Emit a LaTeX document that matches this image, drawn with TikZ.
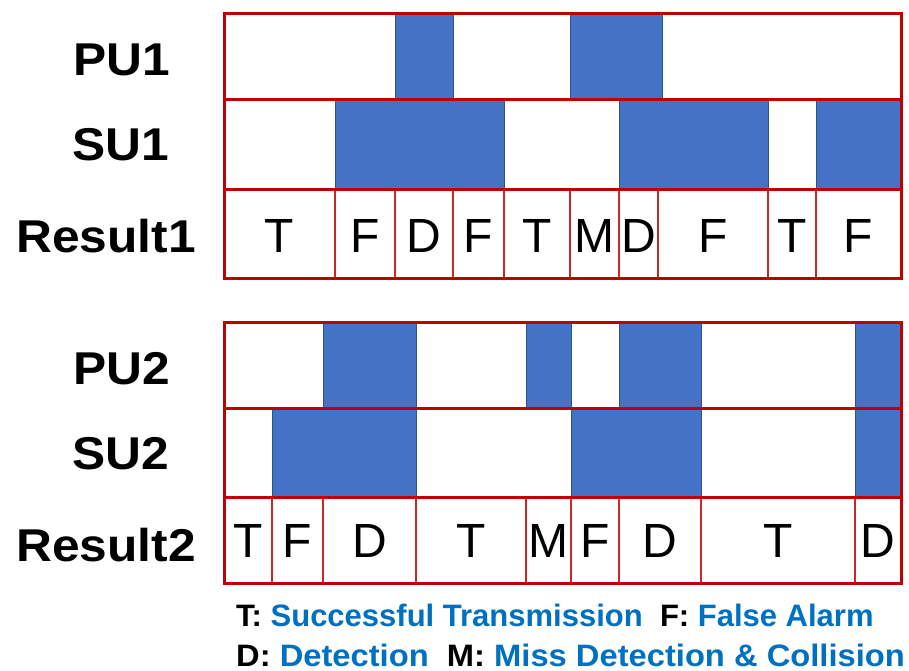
\documentclass[tikz,border=0pt]{standalone}
\usepackage{fontspec}
\setmainfont{Liberation Sans}
\definecolor{gridred}{RGB}{192,0,0}
\definecolor{fillblue}{RGB}{68,114,196}
\definecolor{edgeblue}{RGB}{47,82,143}
\definecolor{legblue}{RGB}{0,112,192}
\begin{document}
\begin{tikzpicture}[x=1pt,y=-1pt,
  busy/.style={fill=fillblue,draw=edgeblue,line width=0.8pt},
  frame/.style={draw=gridred,line width=3pt},
  rowline/.style={draw=gridred,line width=3pt},
  divline/.style={draw=gridred!85,line width=1.3pt},
  rowlab/.style={font=\fontsize{46}{50}\selectfont\bfseries,inner sep=0pt},
  cell/.style={font=\fontsize{48}{50}\selectfont,inner sep=0pt},
  legtxt/.style={font=\fontsize{31}{34}\selectfont\bfseries,inner sep=0pt,anchor=base west}]
\useasboundingbox (0,0) rectangle (909,671);
% ---------- panel 1 ----------
\fill[busy] (395,14) rectangle (453,100);
\fill[busy] (570,14) rectangle (662,100);
\fill[busy] (335,100) rectangle (504,189);
\fill[busy] (619,100) rectangle (768,189);
\fill[busy] (816,100) rectangle (901,189);
\foreach \x in {335,395,453,504,570,619,658,768,816}
  \draw[divline] (\x,189) -- (\x,278);
\draw[rowline] (224,100) -- (901,100);
\draw[rowline] (224,189) -- (901,189);
\draw[frame] (224,14) rectangle (901,278);
% ---------- panel 2 ----------
\fill[busy] (323,322) rectangle (416,408);
\fill[busy] (526,322) rectangle (571,408);
\fill[busy] (619,322) rectangle (701,408);
\fill[busy] (855,322) rectangle (901,408);
\fill[busy] (272,408) rectangle (416,497);
\fill[busy] (571,408) rectangle (701,497);
\fill[busy] (855,408) rectangle (901,497);
\foreach \x in {272,323,416,526,571,619,701,855}
  \draw[divline] (\x,497) -- (\x,583);
\draw[rowline] (224,408) -- (901,408);
\draw[rowline] (224,497) -- (901,497);
\draw[frame] (224,322) rectangle (901,583);
% ---------- row labels ----------
\node[rowlab] (pu1) at (122,59.5) {\scalebox{1.08}[1]{PU1}};
\node[rowlab] (su1) at (121,144.5) {\scalebox{1.08}[1]{SU1}};
\node[rowlab] (r1) at (106,236) {\scalebox{1.08}[1]{Result1}};
\node[rowlab] (pu2) at (122,369) {\scalebox{1.08}[1]{PU2}};
\node[rowlab] (su2) at (121,453.5) {\scalebox{1.08}[1]{SU2}};
\node[rowlab] (r2) at (106,545.5) {\scalebox{1.08}[1]{Result2}};
% ---------- result letters ----------
\foreach \x/\t [count=\i] in {279.5/T,365/F,424/D,478.5/F,537/T,594.5/M,638.5/D,713/F,792/T,858.5/F}
  \node[cell] (ra\i) at (\x,236) {\t};
\foreach \x/\t [count=\i] in {248/T,297.5/F,369.5/D,471/T,548.5/M,595/F,660/D,778/T,878/D}
  \node[cell] (rb\i) at (\x,541) {\t};
% ---------- legend ----------
\node[legtxt] (leg1) at (236,626) {T: \textcolor{legblue}{Successful Transmission}\ \ F: \textcolor{legblue}{False Alarm}};
\node[legtxt] (leg2) at (236,666) {\scalebox{1.055}[1]{D: \textcolor{legblue}{Detection}\ \ M: \textcolor{legblue}{Miss Detection \& Collision}}};
\end{tikzpicture}
\end{document}
